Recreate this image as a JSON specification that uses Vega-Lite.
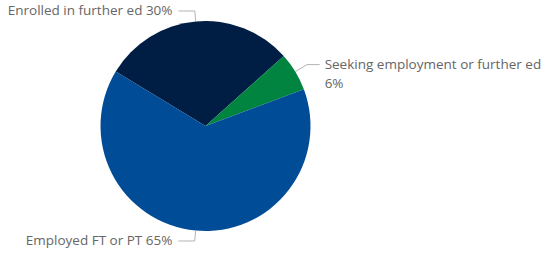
{
  "$schema": "https://vega.github.io/schema/vega-lite/v6.json",
  "width": 411,
  "height": 252,
  "autosize": "none",
  "padding": {"left": 0, "top": 0, "right": 132, "bottom": 3},
  "background": "white",
  "config": {"view": {"stroke": null}},
  "data": {
    "values": [
      {"category": "Enrolled in further ed", "percent": 30},
      {"category": "Seeking employment or further ed", "percent": 6},
      {"category": "Employed FT or PT", "percent": 65}
    ]
  },
  "transform": [
    {"window": [{"op": "row_number", "as": "idx"}]},
    {"joinaggregate": [{"op": "sum", "field": "percent", "as": "total"}]},
    {"window": [{"op": "sum", "field": "percent", "as": "cum"}], "sort": [{"field": "idx", "order": "ascending"}], "frame": [null, 0]},
    {"calculate": "-1.026 + 2 * PI * (datum.cum - datum.percent / 2) / datum.total", "as": "mid"},
    {"calculate": "sin(datum.mid)", "as": "x1"},
    {"calculate": "cos(datum.mid)", "as": "y1"},
    {"calculate": "(datum.x1 > 0 ? 1.13 : 1.1) * datum.x1", "as": "x2"},
    {"calculate": "(datum.x1 > 0 ? 1.13 : 1.1) * datum.y1", "as": "y2"},
    {"calculate": "datum.x2 + (datum.x1 > 0 ? 0.12 : -0.155)", "as": "x3"},
    {"calculate": "datum.category + (datum.x1 > 0 ? '\\n' : ' ') + datum.percent + '%'", "as": "label"}
  ],
  "layer": [
    {
      "mark": {"type": "arc", "outerRadius": 105},
      "encoding": {
        "theta": {"field": "percent", "type": "quantitative", "stack": true, "scale": {"range": [-1.026, 5.2572]}},
        "order": {"field": "idx", "type": "quantitative"},
        "color": {
          "field": "category",
          "type": "nominal",
          "legend": null,
          "scale": {
            "domain": ["Enrolled in further ed", "Seeking employment or further ed", "Employed FT or PT"],
            "range": ["#001e44", "#00843f", "#004c97"]
          }
        }
      }
    },
    {
      "mark": {"type": "rule", "color": "#b3b3b3", "strokeWidth": 1},
      "encoding": {
        "x": {"field": "x1", "type": "quantitative", "axis": null, "scale": {"domain": [-1.957, 1.957], "nice": false, "zero": false}},
        "y": {"field": "y1", "type": "quantitative", "axis": null, "scale": {"domain": [-1.2, 1.2], "nice": false, "zero": false}},
        "x2": {"field": "x2"},
        "y2": {"field": "y2"}
      }
    },
    {
      "mark": {"type": "rule", "color": "#b3b3b3", "strokeWidth": 1},
      "encoding": {
        "x": {"field": "x2", "type": "quantitative"},
        "y": {"field": "y2", "type": "quantitative"},
        "x2": {"field": "x3"},
        "y2": {"field": "y2"}
      }
    },
    {
      "transform": [{"filter": "datum.x1 < 0"}],
      "mark": {"type": "text", "align": "right", "baseline": "middle", "dx": -6, "font": "Open Sans", "fontSize": 13.5, "color": "#666666"},
      "encoding": {
        "x": {"field": "x3", "type": "quantitative"},
        "y": {"field": "y2", "type": "quantitative"},
        "text": {"field": "label"}
      }
    },
    {
      "transform": [{"filter": "datum.x1 > 0"}],
      "mark": {"type": "text", "align": "left", "baseline": "middle", "dx": 5, "lineBreak": "\n", "lineHeight": 19.5, "font": "Open Sans", "fontSize": 13.5, "color": "#666666"},
      "encoding": {
        "x": {"field": "x3", "type": "quantitative"},
        "y": {"field": "y2", "type": "quantitative"},
        "text": {"field": "label"}
      }
    }
  ]
}
